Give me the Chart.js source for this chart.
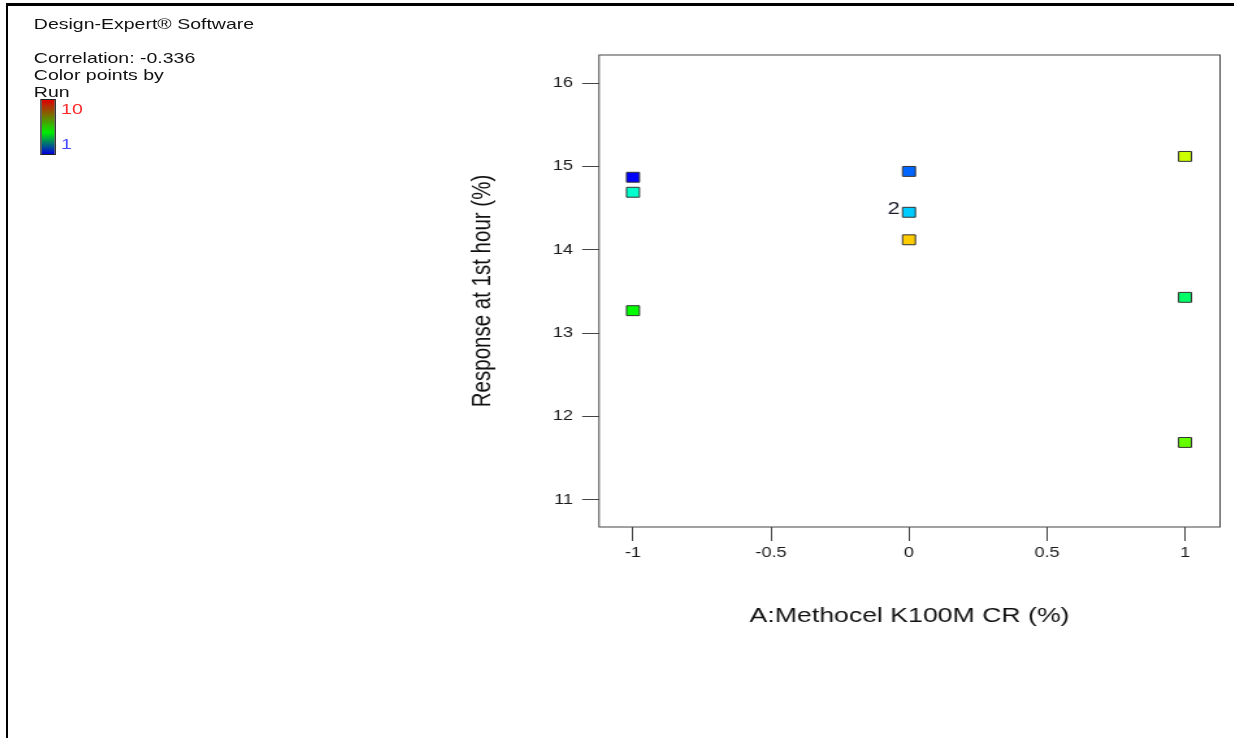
<!DOCTYPE html>
<html>
<head>
<meta charset="utf-8">
<script src="https://cdn.jsdelivr.net/npm/chart.js@4/dist/chart.umd.min.js"></script>
<style>
  html, body { margin: 0; padding: 0; background: #fff; }
  body { width: 1234px; height: 738px; overflow: hidden; position: relative; font-family: 'Liberation Sans', Arial, sans-serif; }
  #frame { position: absolute; left: 6px; top: 3px; right: 0; bottom: 0; border-top: 3px solid #000; border-left: 2px solid #000; }
  /* the original picture is stretched sideways, so the whole plot is drawn narrow and widened */
  #stretch { position: absolute; left: 0; top: 0; width: 949px; height: 738px; transform: scaleX(1.3); transform-origin: 0 0; }
  #stretch canvas { position: absolute; left: 0; top: 0; }
  .note { position: absolute; left: 26px; font-size: 15px; line-height: 17px; color: #111; white-space: nowrap; }
  #bar { position: absolute; left: 31px; top: 99px; width: 10px; height: 54px; border: 1px solid #222;
         background: linear-gradient(to bottom, #e00000 0%, #00ee00 60%, #0000dd 100%); }
  .barlab { position: absolute; left: 47px; font-size: 15px; line-height: 17px; }
</style>
</head>
<body>
<div id="frame"></div>
<div id="stretch">
  <canvas id="chart"></canvas>
  <div class="note" style="top:15px">Design-Expert® Software</div>
  <div class="note" style="top:49px">Correlation: -0.336</div>
  <div class="note" style="top:66px">Color points by</div>
  <div class="note" style="top:83px">Run</div>
  <div id="bar"></div>
  <div class="barlab" style="top:100px;color:#ff2a2a">10</div>
  <div class="barlab" style="top:135px;color:#4a4aff">1</div>
</div>
<script>
const X_VALUES = [-1, -1, -1, 0, 0, 0, 1, 1, 1];
const Y_VALUES = [14.87, 14.69, 13.27, 14.94, 14.45, 14.12, 15.12, 13.43, 11.69];
const POINT_COLORS = ['#0000ff', '#00ffcc', '#00ff00', '#0066ff', '#00ccff', '#ffcc00', '#ccff00', '#00ff66', '#66ff00'];
const POINT_LABELS = ['', '', '', '', '2', '', '', '', ''];

const X_TICKS = [-1, -0.5, 0, 0.5, 1];
const Y_TICKS = [11, 12, 13, 14, 15, 16];

Chart.defaults.font.family = "'Liberation Sans', Arial, sans-serif";
Chart.defaults.color = '#1a1a1a';

const plotBox = {
  id: 'plotBox',
  afterDraw(chart) {
    const { ctx, chartArea: a } = chart;
    ctx.save();
    ctx.strokeStyle = '#444';
    ctx.lineWidth = 1;
    ctx.strokeRect(a.left, a.top, a.right - a.left, a.bottom - a.top);
    ctx.restore();
  }
};

const pointLabels = {
  id: 'pointLabels',
  afterDatasetsDraw(chart) {
    const { ctx } = chart;
    const meta = chart.getDatasetMeta(0);
    ctx.save();
    ctx.font = "17px 'Liberation Sans', Arial, sans-serif";
    ctx.fillStyle = '#1a1a2a';
    ctx.textAlign = 'right';
    ctx.textBaseline = 'middle';
    meta.data.forEach((pt, i) => {
      if (POINT_LABELS[i]) ctx.fillText(POINT_LABELS[i], pt.x - 7, pt.y - 3);
    });
    ctx.restore();
  }
};

const chart = new Chart(document.getElementById('chart'), {
  type: 'scatter',
  data: {
    datasets: [{
      data: X_VALUES.map((x, i) => ({ x: x, y: Y_VALUES[i] })),
      backgroundColor: POINT_COLORS,
      borderColor: '#333',
      borderWidth: 1,
      pointStyle: 'rect',
      pointRadius: 7,
      pointHoverRadius: 7,
    }]
  },
  options: {
    responsive: true,
    maintainAspectRatio: false,
    animation: false,
    layout: { padding: { left: 359, top: 55, right: 10.5, bottom: 109 } },
    plugins: {
      legend: { display: false },
      tooltip: { enabled: false }
    },
    scales: {
      x: {
        type: 'linear',
        min: -1.123,
        max: 1.127,
        afterBuildTicks: s => { s.ticks = X_TICKS.map(v => ({ value: v })); },
        afterFit: s => { s.height = 102; },
        grid: { drawOnChartArea: false, drawTicks: true, tickLength: 14, color: '#444' },
        border: { display: false },
        ticks: { font: { size: 14 }, padding: 4, maxRotation: 0, callback: v => String(v) },
        title: { display: true, text: 'A:Methocel K100M CR (%)', font: { size: 20.5 }, padding: 0, color: '#111' }
      },
      y: {
        type: 'linear',
        min: 10.676,
        max: 16.336,
        afterBuildTicks: s => { s.ticks = Y_TICKS.map(v => ({ value: v })); },
        afterFit: s => { s.width = 101.8; },
        grid: { drawOnChartArea: false, drawTicks: true, tickLength: 13, color: '#444' },
        border: { display: false },
        ticks: { font: { size: 14 }, padding: 7, callback: v => String(v) },
        title: { display: true, text: 'Response at 1st hour (%)', font: { size: 20.5 }, padding: 0, color: '#111' }
      }
    }
  },
  plugins: [plotBox, pointLabels]
});
</script>
</body>
</html>
